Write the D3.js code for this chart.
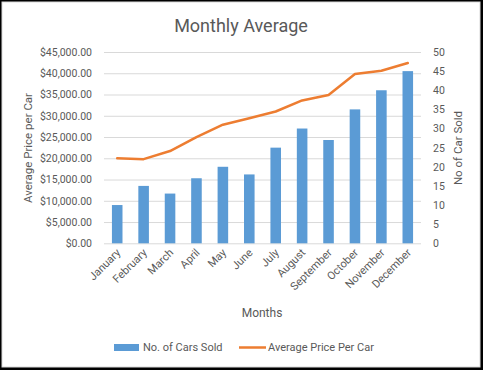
<!DOCTYPE html>
<html>
<head>
<meta charset="utf-8">
<script src="https://cdn.jsdelivr.net/npm/d3@7"></script>
<style>
  body { margin: 0; background: #000; }
  text { font-family: Roboto, "Liberation Sans", sans-serif; fill: #595959; }
</style>
</head>
<body>
<script>

// chart data
var months = ["January", "February", "March", "April", "May", "June", "July",
              "August", "September", "October", "November", "December"]
var carsSold = [10, 15, 13, 17, 20, 18, 25, 30, 27, 35, 40, 45]
var avgPrice = [20000, 19800, 21700, 25000, 27900, 29400, 31000, 33600, 34900, 39800, 40600, 42400]
var priceTicks = [0, 5000, 10000, 15000, 20000, 25000, 30000, 35000, 40000, 45000]
var carTicks = [0, 5, 10, 15, 20, 25, 30, 35, 40, 45, 50]

window.onload = function() {
  var width = 483, height = 370;
  var plot = {left: 104, right: 421, top: 52, bottom: 243.3};

  var svg = d3.select("body")
    .append("svg")
    .attr("width", width)
    .attr("height", height)
    .style("display", "block");

  // frame
  svg.append("rect")
    .attr("x", 0).attr("y", 0)
    .attr("width", width).attr("height", height)
    .attr("fill", "#000");
  svg.append("rect")
    .attr("x", 2).attr("y", 2)
    .attr("width", 478).attr("height", 365)
    .attr("fill", "#fff")
    .attr("stroke", "#d9d9d9");

  // scales
  var xscale = d3.scaleBand()
    .domain(months)
    .range([plot.left, plot.right])
    .paddingInner(0.6)
    .paddingOuter(0.3);

  var yLeft = d3.scaleLinear()
    .domain([0, 45000])
    .range([plot.bottom, plot.top]);

  var yRight = d3.scaleLinear()
    .domain([0, 50])
    .range([plot.bottom, plot.top]);

  // title
  svg.append("text")
    .attr("x", 241)
    .attr("y", 32)
    .attr("text-anchor", "middle")
    .style("font-size", "18px")
    .text("Monthly Average");

  // gridlines
  svg.append("g")
    .attr("transform", "translate(" + plot.left + ",0)")
    .call(d3.axisLeft(yLeft).tickValues(priceTicks)
      .tickSize(-(plot.right - plot.left)).tickFormat(""))
    .call(function(g) { g.select(".domain").remove(); })
    .selectAll("line").attr("stroke", "#d9d9d9");

  // left axis labels
  var leftAxis = svg.append("g")
    .attr("transform", "translate(" + plot.left + ",0)")
    .call(d3.axisLeft(yLeft).tickValues(priceTicks).tickSize(0).tickPadding(12)
      .tickFormat(function(d) { return "$" + d3.format(",.2f")(d); }));
  leftAxis.select(".domain").remove();
  leftAxis.selectAll("text")
    .style("font-size", "10.5px")
    .attr("fill", "#595959");

  // right axis labels
  var rightAxis = svg.append("g")
    .attr("transform", "translate(" + plot.right + ",0)")
    .call(d3.axisRight(yRight).tickValues(carTicks).tickSize(0).tickPadding(12));
  rightAxis.select(".domain").remove();
  rightAxis.selectAll("text")
    .style("font-size", "10.5px")
    .attr("fill", "#595959");

  // bars
  svg.selectAll("rect.bar")
    .data(carsSold)
    .enter()
    .append("rect")
    .attr("class", "bar")
    .attr("x", function(d, i) { return xscale(months[i]); })
    .attr("y", function(d) { return yRight(d); })
    .attr("width", xscale.bandwidth())
    .attr("height", function(d) { return yRight(0) - yRight(d); })
    .attr("fill", "#5b9bd5");

  // line
  var line = d3.line()
    .x(function(d, i) { return xscale(months[i]) + xscale.bandwidth() / 2; })
    .y(function(d) { return yLeft(d); });

  svg.append("path")
    .datum(avgPrice)
    .attr("d", line)
    .attr("fill", "none")
    .attr("stroke", "#ed7d31")
    .attr("stroke-width", 2.5)
    .attr("stroke-linejoin", "round")
    .attr("stroke-linecap", "round");

  // month labels
  var xAxis = svg.append("g")
    .attr("transform", "translate(0," + plot.bottom + ")")
    .call(d3.axisBottom(xscale).tickSize(0).tickPadding(0));
  xAxis.select(".domain").remove();
  xAxis.selectAll("text")
    .style("font-size", "11px")
    .attr("fill", "#595959")
    .attr("text-anchor", "end")
    .attr("dy", null)
    .attr("transform", "translate(4,10) rotate(-45)");

  // axis titles
  svg.append("text")
    .attr("x", 262)
    .attr("y", 317)
    .attr("text-anchor", "middle")
    .style("font-size", "12px")
    .text("Months");

  svg.append("text")
    .attr("transform", "translate(32,148) rotate(-90)")
    .attr("text-anchor", "middle")
    .style("font-size", "11.5px")
    .text("Average Price per Car");

  svg.append("text")
    .attr("transform", "translate(462,148) rotate(-90)")
    .attr("text-anchor", "middle")
    .style("font-size", "11.5px")
    .text("No of Car Sold");

  // legend
  var legend = svg.append("g").attr("class", "legend");
  legend.append("rect")
    .attr("x", 114).attr("y", 344)
    .attr("width", 25).attr("height", 7)
    .attr("fill", "#5b9bd5");
  legend.append("text")
    .attr("x", 143).attr("y", 351)
    .style("font-size", "11px")
    .text("No. of Cars Sold");
  legend.append("line")
    .attr("x1", 239).attr("x2", 266)
    .attr("y1", 347.5).attr("y2", 347.5)
    .attr("stroke", "#ed7d31")
    .attr("stroke-width", 2.5);
  legend.append("text")
    .attr("x", 268).attr("y", 351)
    .style("font-size", "11px")
    .text("Average Price Per Car");
};
</script>
</body>
</html>
